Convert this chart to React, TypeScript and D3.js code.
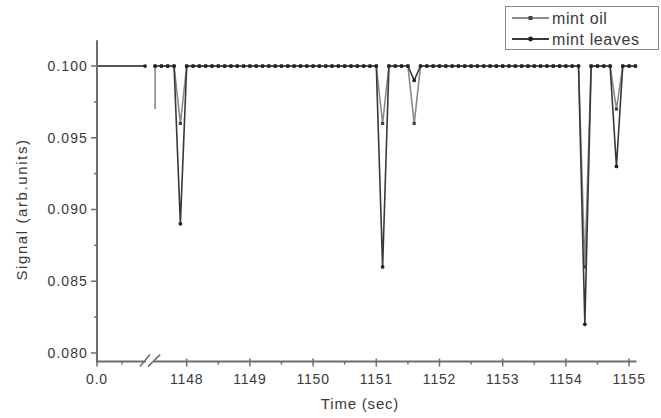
import React from "react";
import * as d3 from "d3";

// ---- data ----
const leftTimes = [0, 0.96];
const leftLeaves = [0.1, 0.1];
const leftOil = [0.1, 0.1];

const times = [
  1147.5, 1147.6, 1147.7, 1147.8, 1147.9,
  1148.0, 1148.1, 1148.2, 1148.3, 1148.4, 1148.5, 1148.6, 1148.7, 1148.8, 1148.9,
  1149.0, 1149.1, 1149.2, 1149.3, 1149.4, 1149.5, 1149.6, 1149.7, 1149.8, 1149.9,
  1150.0, 1150.1, 1150.2, 1150.3, 1150.4, 1150.5, 1150.6, 1150.7, 1150.8, 1150.9,
  1151.0, 1151.1, 1151.2, 1151.3, 1151.4, 1151.5, 1151.6, 1151.7, 1151.8, 1151.9,
  1152.0, 1152.1, 1152.2, 1152.3, 1152.4, 1152.5, 1152.6, 1152.7, 1152.8, 1152.9,
  1153.0, 1153.1, 1153.2, 1153.3, 1153.4, 1153.5, 1153.6, 1153.7, 1153.8, 1153.9,
  1154.0, 1154.1, 1154.2, 1154.3, 1154.4, 1154.5, 1154.6, 1154.7, 1154.8, 1154.9,
  1155.0, 1155.1,
];

const mintLeaves = [
  0.1, 0.1, 0.1, 0.1, 0.089,
  0.1, 0.1, 0.1, 0.1, 0.1, 0.1, 0.1, 0.1, 0.1, 0.1,
  0.1, 0.1, 0.1, 0.1, 0.1, 0.1, 0.1, 0.1, 0.1, 0.1,
  0.1, 0.1, 0.1, 0.1, 0.1, 0.1, 0.1, 0.1, 0.1, 0.1,
  0.1, 0.086, 0.1, 0.1, 0.1, 0.1, 0.099, 0.1, 0.1, 0.1,
  0.1, 0.1, 0.1, 0.1, 0.1, 0.1, 0.1, 0.1, 0.1, 0.1,
  0.1, 0.1, 0.1, 0.1, 0.1, 0.1, 0.1, 0.1, 0.1, 0.1,
  0.1, 0.1, 0.1, 0.082, 0.1, 0.1, 0.1, 0.1, 0.093, 0.1,
  0.1, 0.1,
];

const mintOil = [
  0.1, 0.1, 0.1, 0.1, 0.096,
  0.1, 0.1, 0.1, 0.1, 0.1, 0.1, 0.1, 0.1, 0.1, 0.1,
  0.1, 0.1, 0.1, 0.1, 0.1, 0.1, 0.1, 0.1, 0.1, 0.1,
  0.1, 0.1, 0.1, 0.1, 0.1, 0.1, 0.1, 0.1, 0.1, 0.1,
  0.1, 0.096, 0.1, 0.1, 0.1, 0.1, 0.096, 0.1, 0.1, 0.1,
  0.1, 0.1, 0.1, 0.1, 0.1, 0.1, 0.1, 0.1, 0.1, 0.1,
  0.1, 0.1, 0.1, 0.1, 0.1, 0.1, 0.1, 0.1, 0.1, 0.1,
  0.1, 0.1, 0.1, 0.086, 0.1, 0.1, 0.1, 0.1, 0.097, 0.1,
  0.1, 0.1,
];

// mint oil trace enters from below at the start of the second segment
const oilLeadTimes = [1147.5];
const oilLeadValues = [0.097];

const yTicks = [0.08, 0.085, 0.09, 0.095, 0.1];
const yMinorTicks = [0.0825, 0.0875, 0.0925, 0.0975];
const xTicks = [1148, 1149, 1150, 1151, 1152, 1153, 1154, 1155];
const xMinorTicks = [1148.5, 1149.5, 1150.5, 1151.5, 1152.5, 1153.5, 1154.5];
const leftTicks = [0];
const leftMinorTicks = [0.5];
const seriesNames = ["mint oil", "mint leaves"];

const FONT = "'Liberation Sans', Arial, Helvetica, sans-serif";
const AXIS = "#6e6e6e";
const TXT = "#3a3a3a";
const OIL = "#8a8a8a";
const LEAVES = "#383838";

export default function App() {
  const W = 661, H = 418;
  const y = d3.scaleLinear().domain([0.0794, 0.1018]).range([361.6, 40.2]);
  const xl = d3.scaleLinear().domain([0, 1.06]).range([97, 150]);
  const xr = d3.scaleLinear().domain([1147.5, 1155.1]).range([155.1, 635.4]);
  const x0 = xl(0);
  const yAxis = y(0.0794);

  type P = [number, number];
  const line = d3.line<P>().x((d) => d[0]).y((d) => d[1]);

  const leftL: P[] = leftTimes.map((t, i) => [xl(t), y(leftLeaves[i])]);
  const leftO: P[] = leftTimes.map((t, i) => [xl(t), y(leftOil[i])]);
  const leavesPts: P[] = times.map((t, i) => [xr(t), y(mintLeaves[i])]);
  const oilPts: P[] = times.map((t, i) => [xr(t), y(mintOil[i])]);
  const oilLead: P[] = oilLeadTimes.map((t, i) => [xr(t), y(oilLeadValues[i])]);
  const oilFull = [...oilLead, ...oilPts];

  const fmt = d3.format(".3f");

  return (
    <svg width={W} height={H} style={{ position: "absolute", left: 0, top: 0, background: "#fff" }} fontFamily={FONT}>
      <rect x={0} y={0} width={W} height={H} fill="#fff" />
      {/* lines */}
      <path d={line(leftO) || ""} fill="none" stroke={OIL} strokeWidth={1.6} />
      <path d={line(leftL) || ""} fill="none" stroke={LEAVES} strokeWidth={1.6} />
      <path d={line(oilFull) || ""} fill="none" stroke={OIL} strokeWidth={1.6} />
      <path d={line(leavesPts) || ""} fill="none" stroke={LEAVES} strokeWidth={1.6} />
      {/* markers */}
      {oilPts.map((p, i) => (
        <rect key={"o" + i} x={p[0] - 1.6} y={p[1] - 1.6} width={3.2} height={3.2} fill="#444" />
      ))}
      {leftL.slice(1).map((p, i) => (
        <circle key={"lc" + i} cx={p[0]} cy={p[1]} r={1.9} fill="#222" />
      ))}
      {leavesPts.map((p, i) => (
        <circle key={"l" + i} cx={p[0]} cy={p[1]} r={1.9} fill="#222" />
      ))}

      {/* y axis */}
      <line x1={x0} x2={x0} y1={y(0.1018)} y2={yAxis + 1} stroke={AXIS} strokeWidth={2} />
      {yTicks.map((v) => (
        <g key={"yt" + v}>
          <line x1={x0 - 6} x2={x0} y1={y(v)} y2={y(v)} stroke={AXIS} strokeWidth={1.5} />
          <text x={x0 - 9} y={y(v)} dy="0.35em" textAnchor="end" fontSize={14} fill={TXT} letterSpacing={1.1}>
            {fmt(v)}
          </text>
        </g>
      ))}
      {yMinorTicks.map((v) => (
        <line key={"ym" + v} x1={x0 - 3} x2={x0} y1={y(v)} y2={y(v)} stroke={AXIS} strokeWidth={1.5} />
      ))}

      {/* x axis with break */}
      <line x1={x0 - 1} x2={xl(0.98)} y1={yAxis} y2={yAxis} stroke={AXIS} strokeWidth={2} />
      <line x1={xr(1147.48)} x2={xr(1155.1) + 1} y1={yAxis} y2={yAxis} stroke={AXIS} strokeWidth={2} />
      <line x1={xl(0.86)} x2={xl(1.06)} y1={yAxis + 5} y2={yAxis - 7} stroke={AXIS} strokeWidth={1.5} />
      <line x1={xl(1.02)} x2={xr(1147.58)} y1={yAxis + 5} y2={yAxis - 7} stroke={AXIS} strokeWidth={1.5} />
      {leftTicks.map((t) => (
        <g key={"lt" + t}>
          <line x1={xl(t)} x2={xl(t)} y1={yAxis} y2={yAxis + 5} stroke={AXIS} strokeWidth={1.5} />
          <text x={xl(t)} y={yAxis + 22} textAnchor="middle" fontSize={14} fill={TXT} letterSpacing={0.8}>
            {t.toFixed(1)}
          </text>
        </g>
      ))}
      {leftMinorTicks.map((t) => (
        <line key={"lm" + t} x1={xl(t)} x2={xl(t)} y1={yAxis} y2={yAxis + 3} stroke={AXIS} strokeWidth={1.5} />
      ))}
      {xTicks.map((t) => (
        <g key={"xt" + t}>
          <line x1={xr(t)} x2={xr(t)} y1={yAxis - 3} y2={yAxis + 5} stroke={AXIS} strokeWidth={1.5} />
          <text x={xr(t)} y={yAxis + 22} textAnchor="middle" fontSize={14} fill={TXT} letterSpacing={0.8}>
            {t}
          </text>
        </g>
      ))}
      {xMinorTicks.map((t) => (
        <line key={"xm" + t} x1={xr(t)} x2={xr(t)} y1={yAxis} y2={yAxis + 3} stroke={AXIS} strokeWidth={1.5} />
      ))}

      {/* axis titles */}
      <text x={360} y={409} textAnchor="middle" fontSize={15} fill={TXT} letterSpacing={0.8}>
        Time (sec)
      </text>
      <text transform={`translate(27,${y(0.09)}) rotate(-90)`} textAnchor="middle" fontSize={15} fill={TXT} letterSpacing={1.6}>
        Signal (arb.units)
      </text>

      {/* legend */}
      <rect x={505.5} y={6.5} width={153} height={43} fill="#fff" stroke="#8a8a8a" strokeWidth={1} />
      {seriesNames.map((name, i) => {
        const ly = 18 + i * 21;
        const isOil = i === 0;
        return (
          <g key={name}>
            <line x1={512} x2={549} y1={ly} y2={ly} stroke={isOil ? OIL : LEAVES} strokeWidth={1.8} />
            {isOil ? (
              <rect x={528.5} y={ly - 2} width={4} height={4} fill="#444" />
            ) : (
              <circle cx={530.5} cy={ly} r={2.4} fill="#222" />
            )}
            <text x={552} y={ly} dy="0.35em" fontSize={16} fill={TXT} letterSpacing={0.6}>
              {name}
            </text>
          </g>
        );
      })}
    </svg>
  );
}
